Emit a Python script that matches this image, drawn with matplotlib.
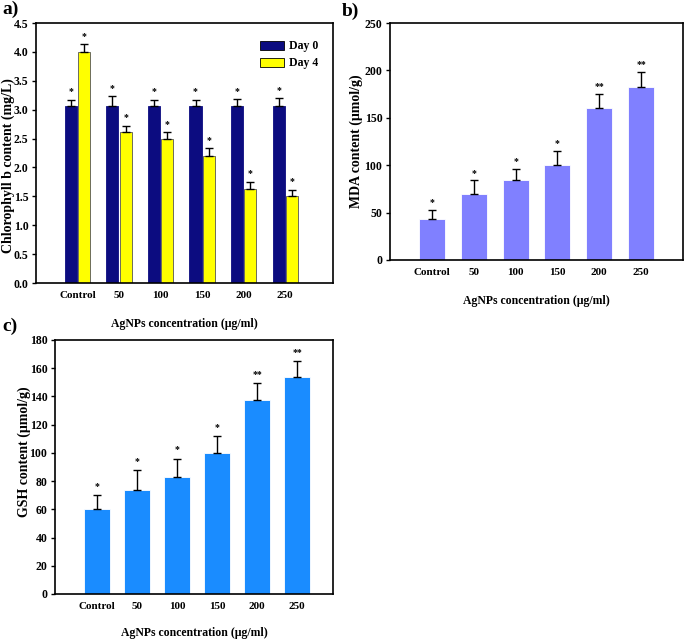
import numpy as np
import matplotlib.pyplot as plt

plt.rcParams['font.family'] = ['Liberation Serif', 'DejaVu Serif']
plt.rcParams['font.weight'] = 'bold'

cats = ['Control', '50', '100', '150', '200', '250']

# panel a: chlorophyll b
day0 = [3.07, 3.07, 3.07, 3.07, 3.07, 3.07]
day0_err = [0.10, 0.16, 0.10, 0.10, 0.11, 0.13]
day4 = [4.00, 2.62, 2.50, 2.20, 1.62, 1.50]
day4_err = [0.13, 0.10, 0.11, 0.13, 0.13, 0.11]
day0_sig = ['*'] * 6
day4_sig = ['*'] * 6

# panel b: MDA
mda = [43, 70, 84, 100, 160, 182]
mda_err = [10, 14, 12, 15, 15, 16]
mda_sig = ['*', '*', '*', '*', '**', '**']

# panel c: GSH
gsh = [60, 74, 83, 100, 137.5, 154]
gsh_err = [10, 14, 13, 12, 12, 11]
gsh_sig = ['*', '*', '*', '*', '**', '**']

W, H = 685, 641
fig = plt.figure(figsize=(W / 100, H / 100), dpi=100)


def ax_at(x0, y0, x1, y1):
    return fig.add_axes([x0 / W, 1 - y1 / H, (x1 - x0) / W, (y1 - y0) / H])


def style(ax):
    for s in ax.spines.values():
        s.set_linewidth(1.2)
    ax.tick_params(axis='x', length=0, labelsize=8, pad=6)
    ax.tick_params(axis='y', direction='out', length=3, width=1, labelsize=8.5, pad=2.5)
    for lab in ax.get_xticklabels() + ax.get_yticklabels():
        lab.set_fontweight('bold')


def bars(ax, x, vals, errs, sigs, color, width, edge, ystep, label=None):
    ax.bar(x, vals, width, color=color, edgecolor=edge, linewidth=0.6, zorder=2, label=label)
    ax.errorbar(x, vals, yerr=[np.zeros(len(vals)), errs], fmt='none',
                ecolor='black', elinewidth=1, capsize=3, capthick=1, zorder=3)
    for xi, v, e, s in zip(x, vals, errs, sigs):
        ax.text(xi, v + e + ystep, s, ha='center', va='bottom', fontsize=7, fontweight='bold')


xlab = 'AgNPs concentration (\u03bcg/ml)'
x = np.arange(len(cats))

# ---- a)
ax = ax_at(36, 23, 333, 283)
bars(ax, x - 0.16, day0, day0_err, day0_sig, '#0c0c80', 0.29, '#0c0c80', 0.06, 'Day 0')
bars(ax, x + 0.16, day4, day4_err, day4_sig, '#ffff00', 0.29, '#555555', 0.06, 'Day 4')
ax.set_xlim(-1, 6.15)
ax.set_ylim(0, 4.5)
yt = np.arange(0, 4.51, 0.5)
ax.set_yticks(yt)
ax.set_yticklabels(['%.1f' % v for v in yt])
ax.set_xticks(x)
ax.set_xticklabels(cats)
ax.set_ylabel('Chlorophyll b content (mg/L)', fontsize=10, fontweight='bold')
ax.yaxis.set_label_coords(-0.072, 0.45)
ax.set_xlabel(xlab, fontsize=8.5, fontweight='bold', labelpad=13)
leg = ax.legend(loc='upper right', bbox_to_anchor=(0.985, 0.975), frameon=False, fontsize=8.5,
                handlelength=2.0, handleheight=0.8, labelspacing=0.45, handletextpad=0.4)
for h in leg.legend_handles:
    h.set_edgecolor('black')
style(ax)
fig.text(2 / W, 1 - 1 / H, 'a)', fontsize=14, fontweight='bold', va='top')

# ---- b)
ax = ax_at(390, 23, 683, 260)
bars(ax, x, mda, mda_err, mda_sig, '#8080ff', 0.62, 'white', 3)
ax.set_xlim(-1, 6)
ax.set_ylim(0, 250)
ax.set_yticks(range(0, 251, 50))
ax.set_xticks(x)
ax.set_xticklabels(cats)
ax.set_ylabel('MDA content (\u03bcmol/g)', fontsize=10, fontweight='bold')
ax.yaxis.set_label_coords(-0.092, 0.5)
ax.set_xlabel(xlab, fontsize=8.5, fontweight='bold', labelpad=13)
style(ax)
fig.text(342 / W, 1 - 3 / H, 'b)', fontsize=14, fontweight='bold', va='top')

# ---- c)
ax = ax_at(55, 340, 333, 594)
bars(ax, x, gsh, gsh_err, gsh_sig, '#1a8cff', 0.65, 'white', 3)
ax.set_xlim(-1.05, 5.9)
ax.set_ylim(0, 180)
ax.set_yticks(range(0, 181, 20))
ax.set_xticks(x)
ax.set_xticklabels(cats)
ax.set_ylabel('GSH content (\u03bcmol/g)', fontsize=10, fontweight='bold')
ax.yaxis.set_label_coords(-0.086, 0.56)
ax.set_xlabel(xlab, fontsize=8.5, fontweight='bold', labelpad=11)
style(ax)
fig.text(2 / W, 1 - 318 / H, 'c)', fontsize=14, fontweight='bold', va='top')

fig.savefig('out.png', dpi=100)
